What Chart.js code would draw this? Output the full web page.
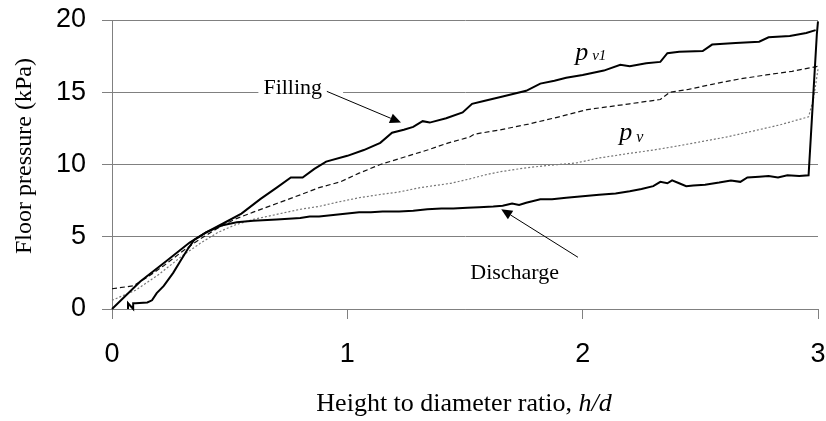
<!DOCTYPE html>
<html>
<head>
<meta charset="utf-8">
<script src="https://cdn.jsdelivr.net/npm/chart.js@4/dist/chart.umd.min.js"></script>
<style>
html,body{margin:0;padding:0;background:#ffffff;}
#wrap{width:826px;height:421px;position:relative;}
</style>
</head>
<body>
<div id="wrap"><canvas id="c" width="826" height="421"></canvas></div>
<script>
// ---- data ----
const xTickValues = [0, 1, 2, 3];
const yTickValues = [0, 5, 10, 15, 20];

// Filling (measured, solid)
const fillingX = [0, 0.12, 0.23, 0.33, 0.40, 0.47, 0.55, 0.63, 0.70, 0.76, 0.81, 0.86, 0.91, 1.00, 1.07, 1.14, 1.19, 1.24, 1.28, 1.32, 1.35, 1.42, 1.49, 1.53, 1.58, 1.66, 1.76, 1.82, 1.88, 1.93, 2.00, 2.09, 2.16, 2.20, 2.27, 2.33, 2.36, 2.41, 2.51, 2.55, 2.65, 2.75, 2.79, 2.88, 2.95, 2.99];
const fillingY = [0, 1.9, 3.3, 4.6, 5.3, 5.9, 6.6, 7.6, 8.4, 9.1, 9.1, 9.7, 10.2, 10.6, 11.0, 11.5, 12.2, 12.4, 12.6, 13.0, 12.9, 13.2, 13.6, 14.2, 14.4, 14.7, 15.1, 15.6, 15.8, 16.0, 16.2, 16.5, 16.9, 16.8, 17.0, 17.1, 17.7, 17.8, 17.85, 18.3, 18.4, 18.5, 18.8, 18.9, 19.1, 19.3];

// Discharge (measured, solid)
const dischargeX = [3.0, 2.995, 2.96, 2.92, 2.87, 2.83, 2.79, 2.75, 2.70, 2.67, 2.63, 2.58, 2.52, 2.47, 2.44, 2.41, 2.38, 2.36, 2.33, 2.30, 2.25, 2.20, 2.14, 2.07, 2.00, 1.93, 1.87, 1.82, 1.76, 1.73, 1.70, 1.66, 1.62, 1.56, 1.51, 1.45, 1.40, 1.34, 1.28, 1.22, 1.15, 1.10, 1.05, 0.97, 0.88, 0.84, 0.80, 0.70, 0.60, 0.53, 0.47, 0.40, 0.35, 0.32, 0.29, 0.26, 0.22, 0.19, 0.17, 0.15, 0.10, 0.09, 0.09, 0.068, 0.068];
const dischargeY = [19.9, 19.0, 9.25, 9.2, 9.25, 9.1, 9.2, 9.15, 9.1, 8.8, 8.9, 8.75, 8.6, 8.55, 8.5, 8.7, 8.9, 8.7, 8.8, 8.5, 8.3, 8.15, 8.0, 7.9, 7.8, 7.7, 7.6, 7.6, 7.35, 7.2, 7.3, 7.15, 7.1, 7.05, 7.0, 6.95, 6.95, 6.9, 6.8, 6.75, 6.75, 6.7, 6.7, 6.55, 6.4, 6.4, 6.3, 6.2, 6.1, 6.0, 5.8, 5.3, 4.8, 4.1, 3.3, 2.5, 1.6, 1.1, 0.6, 0.45, 0.4, 0.4, 0.0, 0.4, 0.0];

// p_v1 (black dashed)
const pv1X = [0, 0.09, 0.15, 0.22, 0.30, 0.37, 0.45, 0.52, 0.60, 0.70, 0.80, 0.88, 0.97, 1.05, 1.14, 1.24, 1.34, 1.43, 1.52, 1.54, 1.65, 1.77, 1.90, 2.02, 2.11, 2.20, 2.33, 2.37, 2.45, 2.55, 2.66, 2.78, 2.89, 3.0];
const pv1Y = [1.4, 1.6, 2.2, 3.0, 4.0, 4.8, 5.6, 6.2, 6.7, 7.3, 7.9, 8.4, 8.8, 9.4, 10.0, 10.5, 11.0, 11.5, 11.9, 12.1, 12.4, 12.8, 13.3, 13.8, 14.0, 14.2, 14.5, 15.0, 15.2, 15.55, 15.9, 16.2, 16.45, 16.8];

// p_v (grey dotted)
const pvX = [0, 0.10, 0.20, 0.30, 0.38, 0.45, 0.52, 0.60, 0.70, 0.80, 0.88, 0.96, 1.05, 1.13, 1.22, 1.31, 1.44, 1.52, 1.59, 1.65, 1.75, 1.86, 1.97, 2.07, 2.19, 2.30, 2.41, 2.51, 2.61, 2.72, 2.84, 2.96, 2.98, 2.99, 3.0];
const pvY = [0.6, 1.3, 2.4, 3.7, 4.6, 5.3, 5.8, 6.2, 6.55, 6.9, 7.1, 7.4, 7.7, 7.9, 8.1, 8.4, 8.7, 9.0, 9.3, 9.5, 9.75, 9.95, 10.1, 10.45, 10.75, 11.0, 11.3, 11.6, 11.9, 12.3, 12.75, 13.3, 14.5, 15.5, 16.6];

const toPoints = (xs, ys) => xs.map((x, i) => ({x: x, y: ys[i]}));

const SERIF = '"Liberation Serif", "Times New Roman", serif';
const SANS = '"Liberation Sans", Arial, sans-serif';
const GRID = '#808080';

// annotation layout (data coordinates)
const notes = {
  filling: {text: 'Filling', x: 0.768, y: 14.87, boxX0: 0.622, boxX1: 0.982, boxY0: 15.75, boxY1: 14.55,
            arrowFrom: [0.913, 15.06], arrowTo: [1.228, 12.9]},
  discharge: {text: 'Discharge', x: 1.711, y: 2.05, arrowFrom: [1.98, 3.58], arrowTo: [1.654, 6.91]},
  pv1: {x: 1.968, y: 17.26, sub: 'v1'},
  pv: {x: 2.155, y: 11.7, sub: 'v'}
};

function arrow(ctx, x0, y0, x1, y1) {
  const ang = Math.atan2(y1 - y0, x1 - x0);
  const L = 11, W = 5;
  ctx.beginPath();
  ctx.moveTo(x0, y0);
  ctx.lineTo(x1 - L * Math.cos(ang), y1 - L * Math.sin(ang));
  ctx.strokeStyle = '#000';
  ctx.lineWidth = 1;
  ctx.stroke();
  ctx.beginPath();
  ctx.moveTo(x1, y1);
  ctx.lineTo(x1 - L * Math.cos(ang) + W * Math.sin(ang), y1 - L * Math.sin(ang) - W * Math.cos(ang));
  ctx.lineTo(x1 - L * Math.cos(ang) - W * Math.sin(ang), y1 - L * Math.sin(ang) + W * Math.cos(ang));
  ctx.closePath();
  ctx.fillStyle = '#000';
  ctx.fill();
}

const annotationPlugin = {
  id: 'annotations',
  afterDraw(chart) {
    const ctx = chart.ctx;
    const xs = chart.scales.x, ys = chart.scales.y;
    const px = v => xs.getPixelForValue(v);
    const py = v => ys.getPixelForValue(v);
    ctx.save();
    // Filling label with white box
    const f = notes.filling;
    ctx.fillStyle = '#ffffff';
    ctx.fillRect(px(f.boxX0), py(f.boxY0), px(f.boxX1) - px(f.boxX0), py(f.boxY1) - py(f.boxY0));
    ctx.fillStyle = '#000';
    ctx.font = '22px ' + SERIF;
    ctx.textAlign = 'center';
    ctx.textBaseline = 'alphabetic';
    ctx.fillText(f.text, px(f.x), py(f.y));
    arrow(ctx, px(f.arrowFrom[0]), py(f.arrowFrom[1]), px(f.arrowTo[0]), py(f.arrowTo[1]));
    // Discharge
    const d = notes.discharge;
    ctx.fillStyle = '#000';
    ctx.font = '22px ' + SERIF;
    ctx.textAlign = 'center';
    ctx.fillText(d.text, px(d.x), py(d.y));
    arrow(ctx, px(d.arrowFrom[0]), py(d.arrowFrom[1]), px(d.arrowTo[0]), py(d.arrowTo[1]));
    // p_v1 and p_v labels
    ctx.textAlign = 'left';
    [[notes.pv1, 15, 0], [notes.pv, 16, 2.5]].forEach(([n, subSize, subDy]) => {
      const x0 = px(n.x), y0 = py(n.y);
      ctx.font = 'italic 26px ' + SERIF;
      ctx.fillText('p', x0, y0);
      const w = ctx.measureText('p').width;
      ctx.font = 'italic ' + subSize + 'px ' + SERIF;
      ctx.fillText(n.sub, x0 + w + 4, y0 + subDy);
    });
    // axis titles
    const ca = chart.chartArea;
    ctx.font = '24px ' + SERIF;
    ctx.save();
    ctx.translate(31, 156);
    ctx.rotate(-Math.PI / 2);
    ctx.textAlign = 'center';
    ctx.textBaseline = 'alphabetic';
    ctx.fillText('Floor pressure (kPa)', 0, 0);
    ctx.restore();
    const t1 = 'Height to diameter ratio, ';
    const t2 = 'h/d';
    ctx.font = '26px ' + SERIF;
    const w1 = ctx.measureText(t1).width;
    ctx.font = 'italic 26px ' + SERIF;
    const w2 = ctx.measureText(t2).width;
    const cx = (ca.left + ca.right) / 2 - 1;
    const sx = cx - (w1 + w2) / 2;
    ctx.textAlign = 'left';
    ctx.font = '26px ' + SERIF;
    ctx.fillText(t1, sx, 411);
    ctx.font = 'italic 26px ' + SERIF;
    ctx.fillText(t2, sx + w1, 411);
    ctx.restore();
  }
};

function zeroPad(s) { s.paddingTop = 0; s.paddingBottom = 0; s.paddingLeft = 0; s.paddingRight = 0; }

const chart = new Chart(document.getElementById('c'), {
  type: 'scatter',
  data: {
    datasets: [
      {label: 'Filling', data: toPoints(fillingX, fillingY), showLine: true, borderColor: '#000', borderWidth: 2, pointRadius: 0, tension: 0, clip: false},
      {label: 'Discharge', data: toPoints(dischargeX, dischargeY), showLine: true, borderColor: '#000', borderWidth: 2, pointRadius: 0, tension: 0, clip: false},
      {label: 'p_v1', data: toPoints(pv1X, pv1Y), showLine: true, borderColor: '#111', borderWidth: 1.2, borderDash: [5, 3], pointRadius: 0, tension: 0, clip: false},
      {label: 'p_v', data: toPoints(pvX, pvY), showLine: true, borderColor: '#777', borderWidth: 1.2, borderDash: [2, 2], pointRadius: 0, tension: 0, clip: false}
    ]
  },
  options: {
    responsive: false,
    animation: false,
    devicePixelRatio: 1,
    layout: {padding: {left: 0, right: 8, top: 20, bottom: 0}},
    plugins: {legend: {display: false}, tooltip: {enabled: false}},
    scales: {
      x: {
        type: 'linear', min: 0, max: 3,
        afterBuildTicks: s => { s.ticks = xTickValues.map(v => ({value: v})); },
        afterFit: s => { s.height = 112; zeroPad(s); },
        ticks: {font: {family: SANS, size: 27}, color: '#000', padding: 19, maxRotation: 0},
        grid: {drawOnChartArea: false, drawTicks: true, tickLength: 10, color: GRID, lineWidth: 1},
        border: {display: true, color: GRID, width: 1}
      },
      y: {
        type: 'linear', min: 0, max: 20,
        afterBuildTicks: s => { s.ticks = yTickValues.map(v => ({value: v})); },
        afterFit: s => { s.width = 112; zeroPad(s); },
        ticks: {font: {family: SANS, size: 27}, color: '#000', padding: 16},
        grid: {drawOnChartArea: true, drawTicks: true, tickLength: 10, color: GRID, lineWidth: 1},
        border: {display: true, color: GRID, width: 1}
      }
    }
  },
  plugins: [annotationPlugin]
});
</script>
</body>
</html>
